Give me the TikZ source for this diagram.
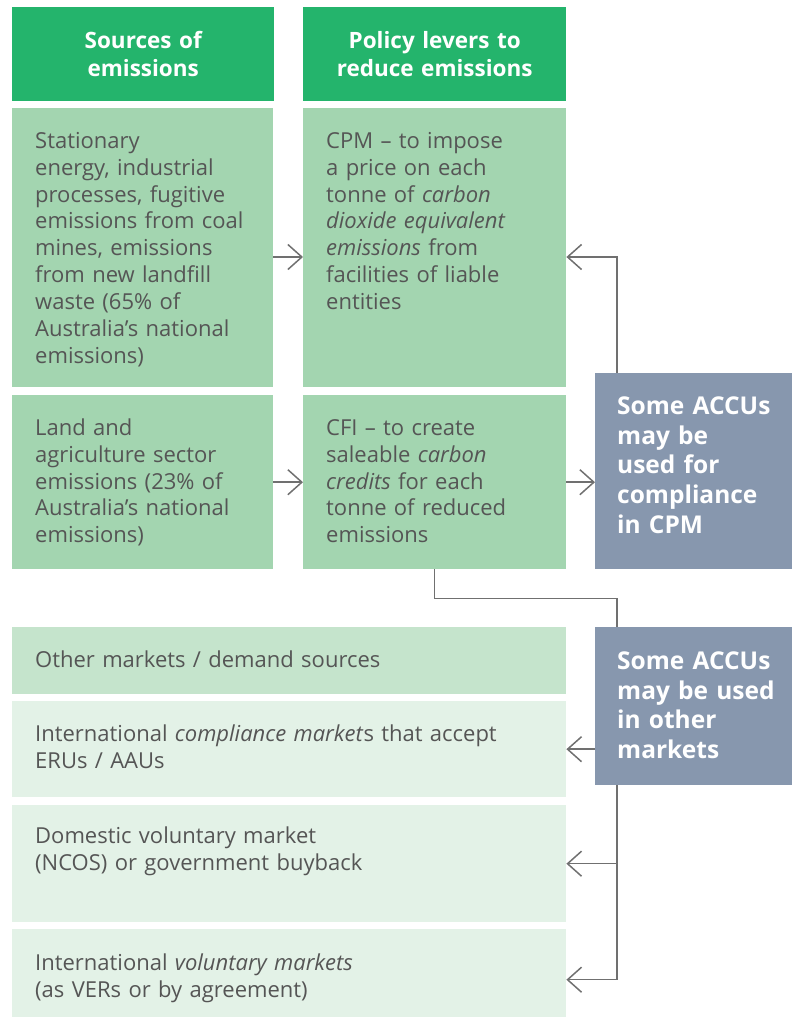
\documentclass[tikz,border=0pt]{standalone}
\usepackage{fontspec}
\setmainfont{Open Sans}
\usetikzlibrary{arrows.meta}
\definecolor{hdr}{HTML}{24B46C}
\definecolor{mid}{HTML}{A3D5B0}
\definecolor{pale}{HTML}{C5E4CC}
\definecolor{paler}{HTML}{E3F2E7}
\definecolor{slate}{HTML}{8797AE}
\definecolor{ink}{HTML}{555555}
\definecolor{wirecol}{HTML}{707070}
\begin{document}
\begin{tikzpicture}[x=1pt, y=-1pt, >={Straight Barb[length=14pt,width=25pt]},
    head/.style={anchor=north west, fill=hdr, text=white, font=\bfseries\fontsize{22.5}{28}\selectfont,
        align=center, minimum height=94pt, inner xsep=0pt},
    cell/.style={anchor=north west, text=ink, font=\fontsize{22}{26.9}\selectfont, align=left,
        inner xsep=23pt, inner ysep=0pt, text height=40pt},
    accu/.style={cell, fill=slate, text=white, font=\bfseries\fontsize{24.5}{29.8}\selectfont,
        inner xsep=22pt, text width=171pt},
    wire/.style={draw=wirecol, line width=1.5pt}]
    \useasboundingbox (0,0) rectangle (792,1017);

    % headers
    \node[head, text width=262pt] (hsrc) at (12,7) {Sources of\\emissions};
    \node[head, text width=263pt] (hpol) at (303,7) {Policy levers to\\reduce emissions};

    % upper rows
    \node[cell, fill=mid, text width=215pt, text depth=239pt] (src1) at (12,108)
        {Stationary\\energy, industrial\\processes, fugitive\\emissions from coal\\mines, emissions\\from new landfill\\waste (65\% of\\Australia’s national\\emissions)};
    \node[cell, fill=mid, text width=217pt, text depth=239pt] (pol1) at (303,108)
        {CPM – to impose\\a price on each\\tonne of \textit{carbon}\\\textit{dioxide equivalent}\\\textit{emissions} from\\facilities of liable\\entities};
    \node[cell, fill=mid, text width=215pt, text depth=134pt] (src2) at (12,395)
        {Land and\\agriculture sector\\emissions (23\% of\\Australia’s national\\emissions)};
    \node[cell, fill=mid, text width=217pt, text depth=134pt] (pol2) at (303,395)
        {CFI – to create\\saleable \textit{carbon}\\\textit{credits} for each\\tonne of reduced\\emissions};
    \node[accu, text height=41pt, text depth=155pt] (acc1) at (595,373)
        {Some ACCUs\\may be\\used for\\compliance\\in CPM};

    % markets
    \node[cell, fill=pale, text width=508pt, text depth=27pt] (other) at (12,627)
        {Other markets / demand sources};
    \node[accu, text height=42pt, text depth=116pt] (acc2) at (595,627)
        {Some ACCUs\\may be used\\in other\\markets};
    \node[cell, fill=paler, text width=508pt, text depth=56pt] (comp) at (12,701)
        {International \textit{compliance market}s that accept\\ERUs / AAUs};
    \node[cell, fill=paler, text width=508pt, text height=38pt, text depth=79pt] (dom) at (12,805)
        {Domestic voluntary market\\(NCOS) or government buyback};
    \node[cell, fill=paler, text width=508pt, text height=41pt, text depth=60pt] (vol) at (12,929)
        {International \textit{voluntary markets}\\(as VERs or by agreement)};

    % connectors
    \coordinate (r1) at (0,257);
    \coordinate (spine) at (617,0);
    \draw[wire,->] (src1.east |- r1) -- (pol1.west |- r1);
    \draw[wire,->] (src2.east) -- (pol2.west);
    \draw[wire,->] (pol2.east) -- (pol2.east -| acc1.west);
    \draw[wire,->] (acc1.north -| spine) |- (pol1.east |- r1);
    \draw[wire] (pol2.south) -- ++(0,29) -| (acc2.north -| spine);
    \draw[wire,->] (acc2.west |- comp.east) -- (comp.east);
    \draw[wire,->] (spine |- dom.east) -- (dom.east);
    \draw[wire,->] (acc2.south -| spine) |- (vol.east);
\end{tikzpicture}
\end{document}
